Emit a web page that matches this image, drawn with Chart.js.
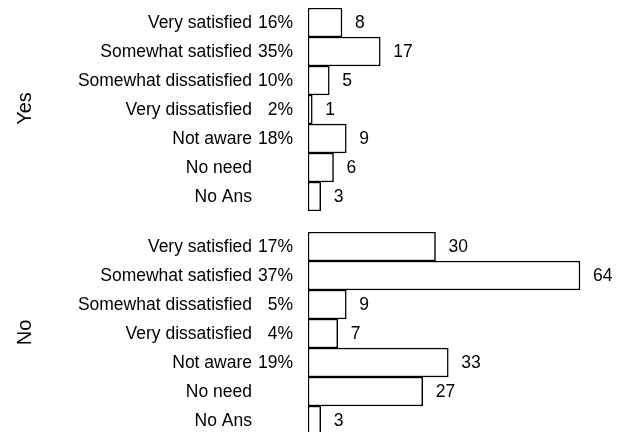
<!DOCTYPE html>
<html>
<head>
<meta charset="utf-8">
<script src="https://cdn.jsdelivr.net/npm/chart.js@4"></script>
<style>
  html, body { margin: 0; padding: 0; background: #fff; overflow: hidden; }
  #wrap { position: relative; width: 617px; height: 432px; }
  #yesBox { position: absolute; left: 0; top: 0; width: 617px; height: 216px; }
  #noBox { position: absolute; left: 0; top: 216px; width: 617px; height: 222px; }
</style>
</head>
<body>
<div id="wrap">
  <div id="yesBox"><canvas id="yes_chart"></canvas></div>
  <div id="noBox"><canvas id="no_chart"></canvas></div>
</div>
<script>
const categories = ['Very satisfied', 'Somewhat satisfied', 'Somewhat dissatisfied', 'Very dissatisfied', 'Not aware', 'No need', 'No Ans'];
const yesCounts = [8, 17, 5, 1, 9, 6, 3];
const yesPct = ['16%', '35%', '10%', '2%', '18%', '', ''];
const noCounts = [30, 64, 9, 7, 33, 27, 3];
const noPct = ['17%', '37%', '5%', '4%', '19%', '', ''];

const FONT = '17.5px "Liberation Sans", Arial, sans-serif';
const GROUP_FONT = '20px "Liberation Sans", Arial, sans-serif';

// draws the two-column row labels, the value labels and the rotated group name
const rowLabels = {
  id: 'rowLabels',
  afterDatasetsDraw(chart, args, opts) {
    const ctx = chart.ctx;
    const y = chart.scales.y;
    const meta = chart.getDatasetMeta(0);
    ctx.save();
    ctx.font = FONT;
    ctx.fillStyle = '#000';
    ctx.textBaseline = 'middle';
    categories.forEach((c, i) => {
      const py = y.getPixelForValue(i) + 1;
      ctx.textAlign = 'right';
      ctx.fillText(c, 252, py);
      if (opts.pct[i]) ctx.fillText(opts.pct[i], 293, py);
      const bar = meta.data[i];
      ctx.textAlign = 'left';
      ctx.fillText(String(chart.data.datasets[0].data[i]), bar.x + 13, py);
    });
    const area = chart.chartArea;
    ctx.font = GROUP_FONT;
    ctx.translate(25, (area.top + area.bottom) / 2 - 1);
    ctx.rotate(-Math.PI / 2);
    ctx.textAlign = 'center';
    ctx.fillText(opts.group, 0, 0);
    ctx.restore();
  }
};

function makeChart(id, counts, pct, group, pad) {
  const ctx = document.getElementById(id).getContext('2d');
  return new Chart(ctx, {
    type: 'bar',
    data: {
      labels: categories,
      datasets: [{
        data: counts,
        backgroundColor: '#ffffff',
        borderColor: '#000000',
        borderWidth: 1.5,
        borderSkipped: false,
        barPercentage: 1,
        categoryPercentage: 1
      }]
    },
    options: {
      indexAxis: 'y',
      responsive: true,
      maintainAspectRatio: false,
      animation: false,
      layout: { padding: { left: 308, right: 3, top: pad.top, bottom: pad.bottom } },
      plugins: {
        legend: { display: false },
        tooltip: { enabled: false },
        rowLabels: { pct: pct, group: group }
      },
      scales: {
        x: { display: false, min: 0, max: 72 },
        y: { display: false }
      }
    },
    plugins: [rowLabels]
  });
}

makeChart('yes_chart', yesCounts, yesPct, 'Yes', { top: 8, bottom: 5 });
makeChart('no_chart', noCounts, noPct, 'No', { top: 16, bottom: 3 });
</script>
</body>
</html>
